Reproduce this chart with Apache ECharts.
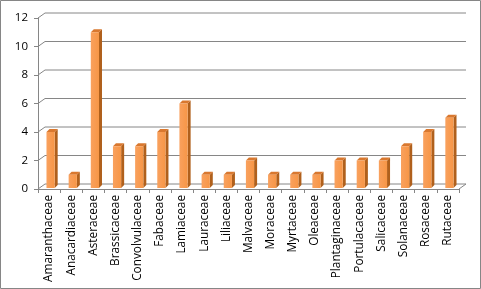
<!DOCTYPE html>
<html><head><meta charset="utf-8">
<script src="https://cdn.jsdelivr.net/npm/echarts@6/dist/echarts.min.js"></script>
<style>html,body{margin:0;padding:0;background:#fff}#c{width:481px;height:289px}</style>
</head><body><div id="c"></div>
<script>
const categories = ["Amaranthaceae","Anacardiaceae","Asteraceae","Brassicaceae","Convolvulaceae","Fabaceae","Lamiaceae","Lauraceae","Liliaceae","Malvaceae","Moraceae","Myrtaceae","Oleaceae","Plantaginaceae","Portulacaceae","Salicaceae","Solanaceae","Rosaceae","Rutaceae"];
const counts = [4,1,11,3,3,4,6,1,1,2,1,1,1,2,2,2,3,4,5];
const yTicks = [0,2,4,6,8,10,12];

const DX = 7, DY = 5, D = 3;
const chart = echarts.init(document.getElementById('c'), null, {renderer:'canvas'});
chart.setOption({
  animation:false,
  backgroundColor:'#fff',
  graphic:[{type:'rect',shape:{x:0.5,y:0.5,width:480,height:288},style:{fill:'none',stroke:'#868686',lineWidth:1},silent:true}],
  grid:{left:38,top:18,width:421,height:171},
  xAxis:{type:'category',data:categories,boundaryGap:true,
    axisLine:{lineStyle:{color:'#868686'}},
    axisTick:{show:true,length:4,interval:0,lineStyle:{color:'#868686'}},
    axisLabel:{rotate:90,interval:0,margin:6,fontFamily:'Open Sans',fontSize:11.8,color:'#000'}},
  yAxis:{type:'value',min:0,max:12,interval:2,
    axisLine:{show:true,lineStyle:{color:'#868686'}},
    axisTick:{show:true,length:4,lineStyle:{color:'#868686'}},
    splitLine:{show:false},
    axisLabel:{margin:10,fontFamily:'Open Sans',fontSize:11.5,color:'#000'}},
  series:[
    {type:'custom',data:yTicks.map(v=>[0,v]),z:1,silent:true,
     renderItem:function(params,api){
       const cs=params.coordSys; const v=api.value(1);
       const y=api.coord([0,v])[1];
       const x0=cs.x, x1=cs.x+cs.width;
       const ls={stroke:'#868686',lineWidth:1};
       const ch=[
         {type:'line',shape:{x1:x0,y1:y,x2:x0+DX,y2:y-DY},style:ls},
         {type:'line',shape:{x1:x0+DX,y1:y-DY,x2:x1+DX,y2:y-DY},style:ls}
       ];
       if(v===0){ch.push({type:'line',shape:{x1:x1,y1:y,x2:x1+DX,y2:y-DY},style:ls});}
       return {type:'group',children:ch};
     }},
    {type:'custom',data:counts.map((v,i)=>[i,v]),z:3,
     renderItem:function(params,api){
       const i=api.value(0), v=api.value(1);
       const p=api.coord([i,v]), p0=api.coord([i,0]);
       const band=api.size([1,0])[0];
       const w=band*0.37;
       const x=p[0]-w/2+1.5, yt=p[1], yb=p0[1]-1;
       return {type:'group',children:[
         {type:'polygon',shape:{points:[[x+w,yt],[x+w+D,yt-D],[x+w+D,yb-D],[x+w,yb]]},style:{fill:'#B0601C'}},
         {type:'polygon',shape:{points:[[x,yt],[x+D,yt-D],[x+w+D,yt-D],[x+w,yt]]},style:{fill:'#D9782F'}},
         {type:'rect',shape:{x:x,y:yt,width:w,height:yb-yt},style:{fill:{type:'linear',x:0,y:0,x2:1,y2:0,colorStops:[{offset:0,color:'#F9A15E'},{offset:1,color:'#F79646'}]}}}
       ]};
     }}
  ]
});
</script></body></html>
